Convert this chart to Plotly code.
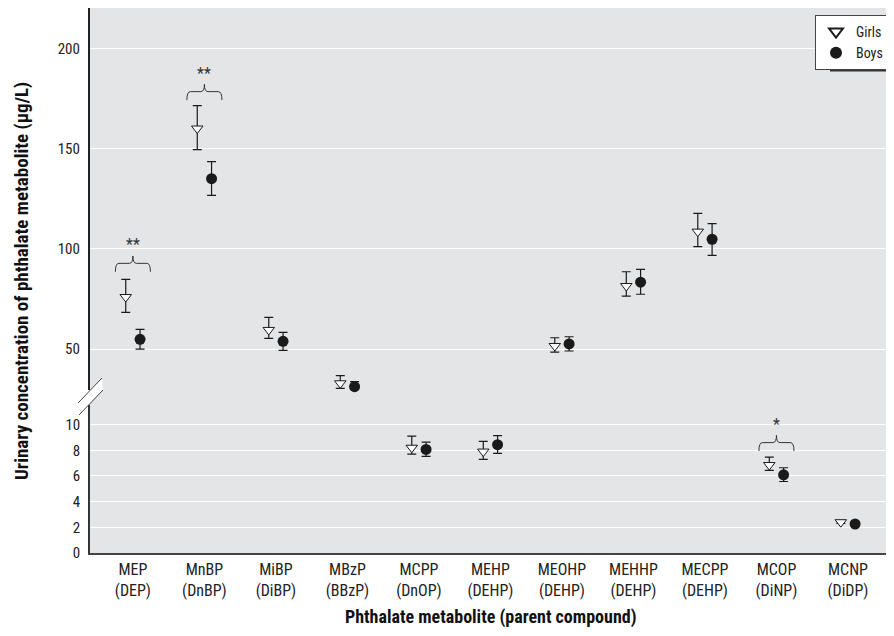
import plotly.graph_objects as go

# ---------------- data ----------------
metabolites = ["MEP", "MnBP", "MiBP", "MBzP", "MCPP", "MEHP", "MEOHP", "MEHHP", "MECPP", "MCOP", "MCNP"]
parents = ["DEP", "DnBP", "DiBP", "BBzP", "DnOP", "DEHP", "DEHP", "DEHP", "DEHP", "DiNP", "DiDP"]

girls_val = [76.0, 160.0, 59.6, 33.0, 8.2, 7.9, 51.6, 81.5, 108.6, 6.85, 2.4]
girls_lo = [68.4, 149.5, 55.4, 30.5, 7.7, 7.3, 48.5, 76.5, 101.1, 6.43, 2.3]
girls_hi = [84.8, 171.4, 65.9, 36.8, 9.1, 8.7, 55.7, 88.6, 117.7, 7.47, 2.5]

boys_val = [54.9, 135.0, 53.9, 31.3, 8.07, 8.44, 52.6, 83.4, 104.8, 6.09, 2.26]
boys_lo = [50.0, 126.7, 49.4, 29.3, 7.52, 7.76, 49.1, 77.4, 96.8, 5.57, 2.16]
boys_hi = [59.9, 143.5, 58.4, 33.8, 8.64, 9.14, 56.2, 89.8, 112.6, 6.64, 2.36]

lower_ticks = [0, 2, 4, 6, 8, 10]
upper_ticks = [50, 100, 150, 200]

bracket_cats = ["MEP", "MnBP", "MCOP"]
bracket_marks = ["**", "**", "*"]
bracket_levels = [92.8, 178.4, 8.6]   # level of the horizontal bracket line

# ---------------- layout constants ----------------
PAGE_OFF = 8                      # browser body margin
W, H = 894 - PAGE_OFF, 636 - PAGE_OFF
ML, MR, MT, MB = 82, 1, 0, 83
PW, PH = W - ML - MR, H - MT - MB
LOW_RANGE = [0, 11.53]
UP_RANGE = [29.66, 220.09]
LOW_DOM = [0, 0.2716]
UP_DOM = [0.2991, 1]
BREAK = 20  # values above this go on the upper panel
X_RANGE = [-0.6, 10.63]
OFF = 0.1

FONT = "Liberation Sans Narrow, Arial Narrow, Roboto Condensed, Liberation Sans, sans-serif"
BG = "#e4e5e7"
INK = "#1a1a1a"
LEG_FONT = 14

fig = go.Figure()


def add_series(name, vals, lo, hi, dx, marker, show):
    for upper in (True, False):
        idx = [i for i, v in enumerate(vals) if (v > BREAK) == upper]
        fig.add_trace(go.Scatter(
            x=[i + dx for i in idx],
            y=[vals[i] for i in idx],
            mode="markers",
            name=name,
            legendgroup=name,
            showlegend=(show and upper),
            marker=marker,
            cliponaxis=False,
            error_y=dict(type="data", symmetric=False,
                         array=[hi[i] - vals[i] for i in idx],
                         arrayminus=[vals[i] - lo[i] for i in idx],
                         color=INK, thickness=1.2, width=4.5),
            xaxis="x2" if upper else "x",
            yaxis="y2" if upper else "y",
        ))


add_series("Girls", girls_val, girls_lo, girls_hi, -OFF,
           dict(symbol="triangle-down", size=10, color="white", line=dict(color=INK, width=1)), True)
add_series("Boys", boys_val, boys_lo, boys_hi, OFF,
           dict(symbol="circle", size=11, color=INK, line=dict(width=0)), True)

# ---------------- brackets ----------------
def px_per_unit(rng, dom):
    return PH * (dom[1] - dom[0]) / (rng[1] - rng[0])

shapes = []
annotations = []
for cat, mark, lvl in zip(bracket_cats, bracket_marks, bracket_levels):
    xi = metabolites.index(cat)
    upper = lvl > BREAK
    k = px_per_unit(UP_RANGE, UP_DOM) if upper else px_per_unit(LOW_RANGE, LOW_DOM)
    yref = "y2" if upper else "y"
    xref = "x2" if upper else "x"
    hw = 0.245
    r = 0.05
    drop = 8.4 / k
    tip = 7.3 / k
    x0, x1 = xi - hw, xi + hw
    path = (f"M{x0},{lvl - drop} Q{x0},{lvl} {x0 + r},{lvl} "
            f"L{xi - r},{lvl} Q{xi},{lvl} {xi},{lvl + tip} "
            f"Q{xi},{lvl} {xi + r},{lvl} "
            f"L{x1 - r},{lvl} Q{x1},{lvl} {x1},{lvl - drop}")
    shapes.append(dict(type="path", path=path, xref=xref, yref=yref,
                       line=dict(color="#333", width=1)))
    annotations.append(dict(x=xi, y=lvl + 18.5 / k, xref=xref, yref=yref, text=mark,
                            showarrow=False, font=dict(family=FONT, size=16, color="#333"),
                            yanchor="middle"))

# ---------------- axis break ----------------
def px(xp, yp):
    """page pixel -> paper coords"""
    xf, yf = xp - PAGE_OFF, yp - PAGE_OFF
    return (xf - ML) / PW, (MT + PH - yf) / PH

# fill gap between panels
shapes.append(dict(type="rect", xref="paper", yref="paper", x0=0, x1=1,
                   y0=LOW_DOM[1], y1=UP_DOM[0], fillcolor=BG, line=dict(width=0), layer="below"))
a = px(78, 403); b = px(102, 378); c = px(103, 390); d = px(79, 415)
shapes.append(dict(type="path", xref="paper", yref="paper",
                   path=f"M{a[0]},{a[1]} L{b[0]},{b[1]} L{c[0]},{c[1]} L{d[0]},{d[1]} Z",
                   fillcolor="white", line=dict(width=0)))
for p, q in ((a, b), (d, c)):
    shapes.append(dict(type="line", xref="paper", yref="paper", x0=p[0], y0=p[1], x1=q[0], y1=q[1],
                       line=dict(color="#444", width=1)))

# legend shadow (legend: right edge 889, top 15; height from plotly's legend metrics)
LEG_RIGHT, LEG_TOP = 889, 15
leg_h = 2 * (LEG_FONT * 1.3 + 3) + 12
shapes.append(dict(type="rect", xref="paper", yref="paper",
                   x0=px(830, 0)[0], x1=px(LEG_RIGHT + 3, 0)[0],
                   y0=px(0, LEG_TOP + leg_h + 2)[1], y1=px(0, LEG_TOP + 3)[1],
                   fillcolor="#333", line=dict(width=0)))

# titles
annotations.append(dict(text="<b>Urinary concentration of phthalate metabolite (μg/L)</b>",
                        xref="paper", yref="paper", x=px(21, 0)[0], y=px(0, 281)[1],
                        textangle=-90, showarrow=False, xanchor="center", yanchor="middle",
                        font=dict(family=FONT, size=19, color="#111")))
annotations.append(dict(text="<b>Phthalate metabolite (parent compound)</b>",
                        xref="paper", yref="paper", x=px(491, 0)[0], y=px(0, 617)[1],
                        showarrow=False, xanchor="center", yanchor="middle",
                        font=dict(family=FONT, size=18, color="#111")))

ticktext = [f"{m}<br>({p})" for m, p in zip(metabolites, parents)]

fig.update_layout(
    width=W, height=H,
    margin=dict(l=ML, r=MR, t=MT, b=MB),
    paper_bgcolor="white", plot_bgcolor=BG,
    font=dict(family=FONT, size=14, color="#222"),
    showlegend=True,
    legend=dict(x=px(LEG_RIGHT, 0)[0], y=px(0, LEG_TOP)[1], xanchor="right", yanchor="top",
                bgcolor="white", bordercolor="#444", borderwidth=1,
                font=dict(family=FONT, size=LEG_FONT, color="#222"),
                itemsizing="constant", tracegroupgap=0),
    xaxis=dict(domain=[0, 1], range=X_RANGE, anchor="y",
               tickvals=list(range(len(metabolites))), ticktext=ticktext,
               showgrid=False, zeroline=False, showline=True, linecolor="#444", linewidth=1.5,
               ticks="outside", ticklen=1, tickcolor="rgba(0,0,0,0)",
               tickfont=dict(family=FONT, size=16, color="#222")),
    xaxis2=dict(domain=[0, 1], range=X_RANGE, anchor="y2", matches="x",
                showticklabels=False, showgrid=False, zeroline=False, showline=False),
    yaxis=dict(domain=LOW_DOM, range=LOW_RANGE, anchor="x",
               tickvals=lower_ticks, showgrid=True, gridcolor="white", gridwidth=1.2,
               zeroline=False, showline=True, linecolor="#333", linewidth=1.5,
               ticks="outside", ticklen=5, tickcolor="rgba(0,0,0,0)",
               tickfont=dict(family=FONT, size=15, color="#222")),
    yaxis2=dict(domain=UP_DOM, range=UP_RANGE, anchor="x2",
                tickvals=upper_ticks, showgrid=True, gridcolor="white", gridwidth=1.2,
                zeroline=False, showline=True, linecolor="#222", linewidth=2.2,
                ticks="outside", ticklen=5, tickcolor="rgba(0,0,0,0)",
                tickfont=dict(family=FONT, size=15, color="#222")),
    shapes=shapes,
    annotations=annotations,
)

fig.write_html("out.html")
